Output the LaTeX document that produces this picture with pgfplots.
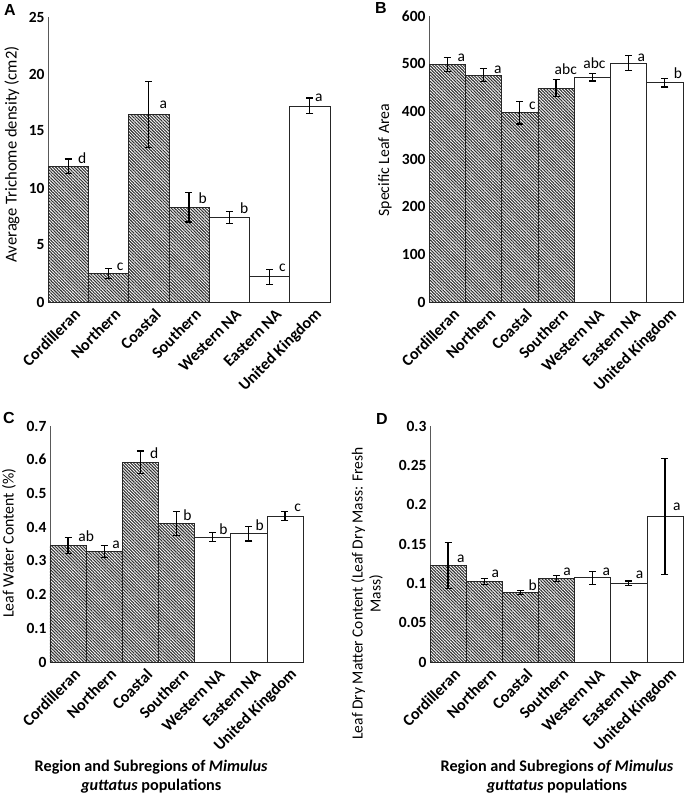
\documentclass[border=0pt]{standalone}
\usepackage{fontspec}
\setmainfont{Carlito}
\newfontfamily\panelfont{Liberation Sans}
\usepackage{pgfplots}
\pgfplotsset{compat=1.18}
\usetikzlibrary{patterns.meta}

\newcommand{\fs}{\fontsize{15.5}{18}\selectfont}
\newcommand{\fsl}{\fontsize{15.8}{18.5}\selectfont}

\pgfplotsset{
  panel/.style={
    scale only axis, anchor=south west, clip=false,
    xmin=-0.5, xmax=6.5, ymin=0,
    axis x line*=bottom, axis y line*=left,
    axis line style={black!65, line width=0.8pt, -},
    xtick={0,...,6},
    xticklabels={Cordilleran,Northern,Coastal,Southern,Western NA,Eastern NA,United Kingdom},
    tick style={draw=none},
    major tick length=0pt,
    scaled y ticks=false,
    /pgf/number format/assume math mode=true,
    /pgf/number format/fixed, /pgf/number format/precision=2,
    tick label style={font=\fs\bfseries},
    x tick label style={xshift=10pt, yshift=-9pt, rotate=45, anchor=east, inner sep=1pt,
      font=\fontsize{16.2}{18}\selectfont\bfseries},
    label style={font=\fsl},
    ylabel style={anchor=center},
  },
  bars/.style={ybar, bar width=1, bar shift=0pt, draw=black!85, line width=0.7pt,
    error bars/y dir=both, error bars/y explicit,
    error bars/error bar style={line width=1.2pt, black},
    error bars/error mark options={rotate=90, mark size=3.5pt, line width=1.2pt, black}},
  hatch/.style={bars, pattern={Lines[angle=-45,distance=2.2pt,line width=1.1pt]}, pattern color=black!80},
  plain/.style={bars, fill=white},
  lab/.style={draw=none, mark=none, nodes near coords, point meta=explicit symbolic,
    every node near coord/.append style={anchor=base, inner sep=0pt, font=\fs, black}},
}

% panel A: trichome density
\pgfplotstableread{
x y e
0 11.9 0.65
1 2.52 0.44
2 16.46 2.9
3 8.3 1.28
}\Ahatch
\pgfplotstableread{
x y e
4 7.42 0.51
5 2.21 0.66
6 17.2 0.7
}\Aplain
\pgfplotstableread{
x y t
0.35 12.17 d
1.29 2.75 c
2.36 16.96 a
3.34 8.6 b
4.37 7.75 b
5.32 2.66 c
6.22 17.57 a
}\Alab

% panel B: specific leaf area
\pgfplotstableread{
x y e
0 498.7 15
1 476 14
2 397.4 24
3 448.4 18
}\Bhatch
\pgfplotstableread{
x y e
4 471.5 8
5 501.5 16
6 460 9
}\Bplain
\pgfplotstableread{
x y t
0.39 504 a
1.40 480 a
2.35 404 c
3.27 478 abc
4.06 490 abc
5.35 504 a
6.36 468 b
}\Blab

% panel C: leaf water content
\pgfplotstableread{
x y e
0 0.346 0.024
1 0.328 0.017
2 0.593 0.033
3 0.411 0.036
}\Chatch
\pgfplotstableread{
x y e
4 0.370 0.013
5 0.381 0.022
6 0.433 0.013
}\Cplain
\pgfplotstableread{
x y t
0.50 0.357 ab
1.33 0.338 a
2.38 0.604 d
3.30 0.419 b
4.30 0.377 b
5.30 0.389 b
6.35 0.446 c
}\Clab

% panel D: leaf dry matter content
\pgfplotstableread{
x y e
0 0.1227 0.029
1 0.1024 0.0036
2 0.0884 0.0025
3 0.1062 0.0036
}\Dhatch
\pgfplotstableread{
x y e
4 0.107 0.0085
5 0.1003 0.0026
6 0.185 0.074
}\Dplain
\pgfplotstableread{
x y t
0.35 0.127 a
1.31 0.1075 a
2.34 0.0906 b
3.29 0.1096 a
4.38 0.110 a
5.30 0.1066 a
6.33 0.1926 a
}\Dlab

\begin{document}
\begin{tikzpicture}
\begin{axis}[panel, at={(48pt,494pt)}, width=282pt, height=285pt,
  ymax=25, ytick={0,5,...,25},
  ylabel={Average Trichome density (cm2)},
  ylabel style={at={(rel axis cs:-0.128,0.518)}, font=\fontsize{16.6}{19}\selectfont}]
\addplot[hatch] table[x=x, y=y, y error=e] {\Ahatch};
\addplot[plain] table[x=x, y=y, y error=e] {\Aplain};
\addplot[lab] table[x=x, y=y, meta=t] {\Alab};
\end{axis}

\begin{axis}[panel, at={(429pt,494pt)}, width=254pt, height=286pt,
  ymax=600, ytick={0,100,...,600},
  ylabel={Specific Leaf Area},
  ylabel style={at={(rel axis cs:-0.173,0.496)}}]
\addplot[hatch] table[x=x, y=y, y error=e] {\Bhatch};
\addplot[plain] table[x=x, y=y, y error=e] {\Bplain};
\addplot[lab] table[x=x, y=y, meta=t] {\Blab};
\end{axis}

\begin{axis}[panel, at={(50pt,134pt)}, width=253pt, height=236pt,
  ymax=0.7, ytick={0,0.1,0.2,0.3,0.4,0.5,0.6,0.7},
  ylabel={Leaf Water Content (\%)},
  ylabel style={at={(rel axis cs:-0.162,0.504)}},
  xlabel={\bfseries Region and Subregions of \textit{Mimulus}\\\bfseries\textit{guttatus} populations},
  xlabel style={at={(rel axis cs:0.40,-0.487)}, anchor=center, align=center, font=\fontsize{16.2}{19}\selectfont}]
\addplot[hatch] table[x=x, y=y, y error=e] {\Chatch};
\addplot[plain] table[x=x, y=y, y error=e] {\Cplain};
\addplot[lab] table[x=x, y=y, meta=t] {\Clab};
\end{axis}

\begin{axis}[panel, at={(430pt,134pt)}, width=253pt, height=236pt,
  ymax=0.3, ytick={0,0.05,0.1,0.15,0.2,0.25,0.3},
  ylabel={Leaf Dry Matter Content (Leaf Dry Mass: Fresh\\Mass)},
  ylabel style={at={(rel axis cs:-0.249,0.29)}, align=center, font=\fs},
  xlabel={\bfseries Region and Subregions \textit{of Mimulus}\\\bfseries\textit{guttatus} populations},
  xlabel style={at={(rel axis cs:0.502,-0.487)}, anchor=center, align=center, font=\fontsize{16.2}{19}\selectfont}]
\addplot[hatch] table[x=x, y=y, y error=e] {\Dhatch};
\addplot[plain] table[x=x, y=y, y error=e] {\Dplain};
\addplot[lab] table[x=x, y=y, meta=t] {\Dlab};
\end{axis}

\node[font=\panelfont\bfseries\fontsize{16}{16}\selectfont, inner sep=0pt] at (10pt,786pt) {A};
\node[font=\panelfont\bfseries\fontsize{16}{16}\selectfont, inner sep=0pt] at (381pt,788pt) {B};
\node[font=\panelfont\bfseries\fontsize{16}{16}\selectfont, inner sep=0pt] at (9pt,378pt) {C};
\node[font=\panelfont\bfseries\fontsize{16}{16}\selectfont, inner sep=0pt] at (382pt,377pt) {D};

\pgfresetboundingbox
\path[use as bounding box] (0pt,0pt) rectangle (685pt,796pt);
\end{tikzpicture}
\end{document}
